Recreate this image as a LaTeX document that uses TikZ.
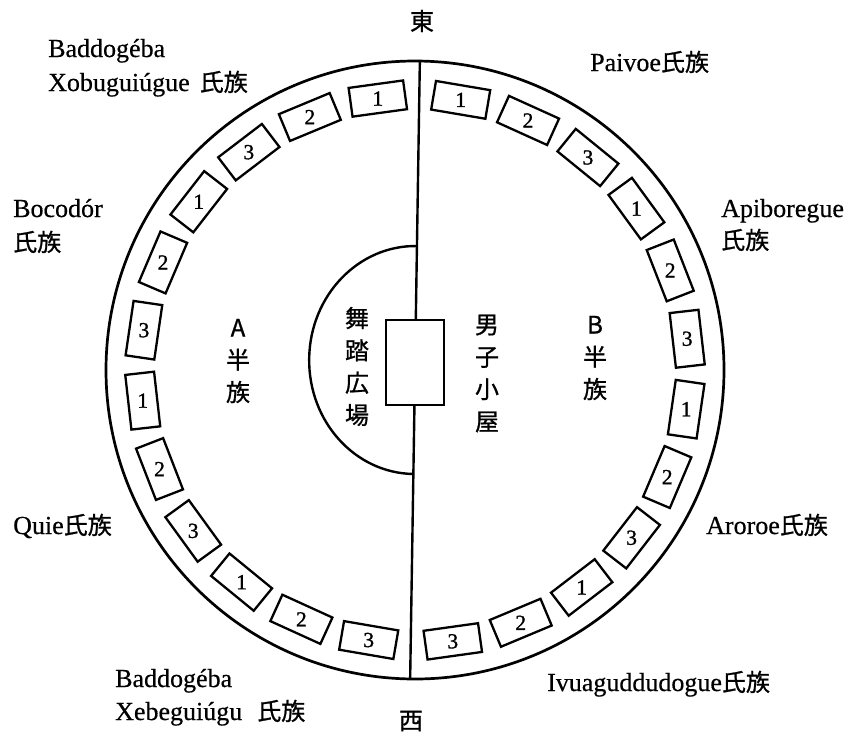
\documentclass[tikz,border=0pt]{standalone}
\usepackage{fontspec}
\setmainfont{Liberation Serif}[FakeBold=0.5]
\newfontfamily\jp{Noto Sans CJK JP}[FakeBold=0.9]
\newfontfamily\digitfont{Liberation Serif}[FakeBold=1.2]
\newcommand\shizoku{{\jp\fontsize{24}{24}\selectfont 氏族}}
\begin{document}
\begin{tikzpicture}[x=1pt,y=-1pt,
  ring/.style={line width=2.7pt},
  wall/.style={line width=2.4pt},
  hutbox/.style={draw, line width=2.4pt, minimum width=58pt, minimum height=85pt, inner sep=0pt},
  house/.style={draw, line width=2.3pt, minimum width=55pt, minimum height=29pt, inner sep=0pt},
  numtxt/.style={inner sep=0pt, font=\digitfont\fontsize{21.5}{21.5}\selectfont},
  lbl/.style={inner sep=0pt, anchor=base west, font=\fontsize{26}{26}\selectfont},
  col/.style={inner sep=0pt, align=center, font=\jp\fontsize{24}{32.3}\selectfont},
  dir/.style={inner sep=0pt, font=\jp\fontsize{24}{24}\selectfont}]
\useasboundingbox (0,0) rectangle (848,734);
\begin{scope}[shift={(415,370)}, rotate=-0.9]
  \coordinate (C) at (0,0);
  \coordinate (N) at (0,-309);
  \coordinate (S) at (0,309);
  \coordinate (PT) at (0,-124);
  \coordinate (PB) at (0,104);
  \draw[ring] (C) circle[radius=309pt];
  \node[hutbox] (hut) at (0,-7.5) {};
  \draw[wall] (N) -- (hut);
  \draw[wall] (hut) -- (S);
  \draw[wall] (PT) arc[start angle=270, end angle=90, x radius=106, y radius=114];
  \foreach \k in {0,...,11}{
    \pgfmathsetmacro\ang{8.7+14.77*\k}
    \pgfmathsetmacro\pl{270-\ang}
    \pgfmathsetmacro\pr{270+\ang}
    \pgfmathsetmacro\rl{\ang-0.9}
    \pgfmathsetmacro\rr{-\ang-0.9}
    \pgfmathtruncatemacro\num{mod(\k,3)+1}
    \node[house, rotate=\rl] (L\k) at (\pl:274) {};
    \node[numtxt] (LN\k) at (L\k) {\num};
    \node[house, rotate=\rr] (R\k) at (\pr:274) {};
    \node[numtxt] (RN\k) at (R\k) {\num};
  }
\end{scope}
\node[dir] (east) at (422,21) {東};
\node[dir] (west) at (411,721) {西};
\node[col] (ahalf) at (238,361) {A\\半\\族};
\node[col] (bhalf) at (595,358) {B\\半\\族};
\node[col] (plaza) at (357,366.5) {舞\\踏\\広\\場};
\node[col] (menhouse) at (487,373.5) {男\\子\\小\\屋};
\node[lbl] (bx1) at (48,57) {Baddogéba};
\node[lbl] (bx2) at (48,91) {Xobuguiúgue\hspace{10pt}\shizoku};
\node[lbl] (bo1) at (13,217) {Bocodór};
\node[lbl] (bo2) at (13,251) {\shizoku};
\node[lbl] (qu) at (13,534) {Quie\shizoku};
\node[lbl] (be1) at (115,687) {Baddogéba};
\node[lbl] (be2) at (115,720) {Xebeguiúgu\hspace{15pt}\shizoku};
\node[lbl] (pa) at (590,71) {Paivoe\shizoku};
\node[lbl] (ap1) at (721,217) {Apiboregue};
\node[lbl] (ap2) at (721,249) {\shizoku};
\node[lbl] (ar) at (706,534) {Aroroe\shizoku};
\node[lbl] (iv) at (547,691) {Ivuaguddudogue\shizoku};
\end{tikzpicture}
\end{document}
